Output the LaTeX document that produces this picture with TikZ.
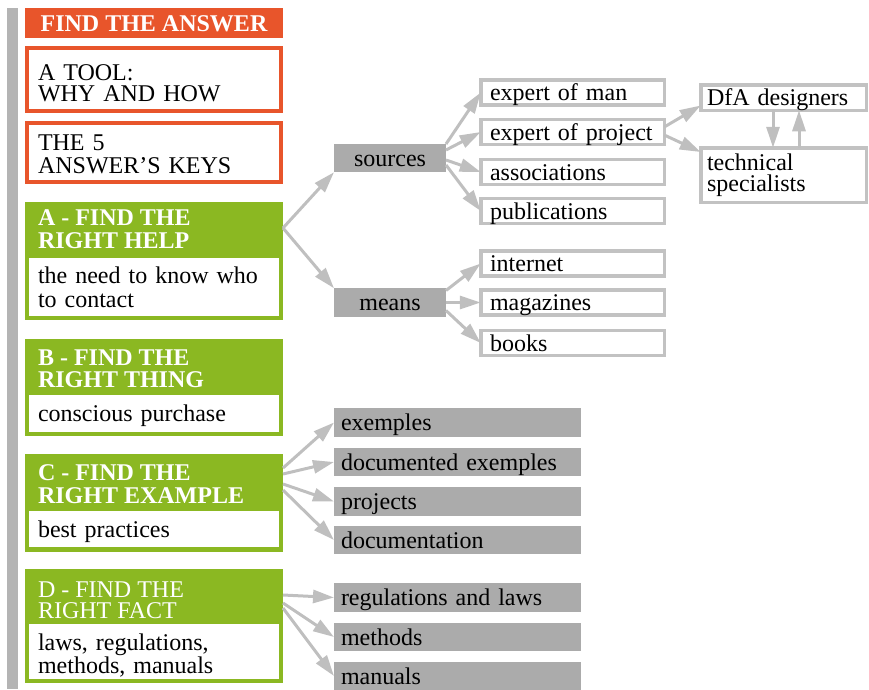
\documentclass[tikz,border=0pt]{standalone}
\usepackage{fontspec}
\setmainfont{Liberation Serif}
\usetikzlibrary{arrows.meta}
\definecolor{keyorange}{HTML}{E8552B}
\definecolor{keygreen}{HTML}{8BB822}
\definecolor{railgrey}{HTML}{B4B4B4}
\definecolor{tilegrey}{HTML}{ABABAB}
\definecolor{framegrey}{HTML}{C2C2C2}
\definecolor{linkgrey}{HTML}{BFBFBF}
\newcommand{\bigtext}{\fontsize{24}{22}\selectfont}

\begin{document}
\begin{tikzpicture}[x=1pt,y=-1pt,
  every node/.style={inner sep=0pt,outer sep=0pt,font=\bigtext},
  titlebar/.style={fill=keyorange,text=white,font=\bigtext\bfseries,
    minimum width=258pt,minimum height=30pt,text height=18pt,text depth=2pt},
  introbox/.style={draw=keyorange,line width=4pt,fill=white,minimum width=254pt,
    text width=232pt,inner xsep=11pt,align=left},
  keypanel/.style={fill=keygreen,minimum width=258pt},
  keyhead/.style={anchor=base west,text=white,align=left},
  keynote/.style={fill=white,minimum width=250pt,text width=232pt,inner xsep=9pt,align=left},
  hub/.style={fill=tilegrey,minimum width=112pt,minimum height=28.5pt,
    text height=18pt,text depth=2pt},
  item/.style={draw=framegrey,line width=3.5pt,fill=white,minimum width=183.5pt,
    minimum height=25pt,text width=165pt,inner xsep=9.25pt,align=left,
    text height=18pt,text depth=2pt},
  expert/.style={draw=framegrey,line width=3.5pt,fill=white,minimum width=165.5pt,
    text width=153pt,inner xsep=6.25pt,align=left},
  tile/.style={fill=tilegrey,minimum width=247pt,minimum height=28.5pt,
    text width=233pt,inner xsep=7pt,align=left,text height=18pt,text depth=2pt},
  link/.style={draw=linkgrey,line width=3pt,-{Triangle[length=21pt,width=13pt]}}
]
\useasboundingbox (0,0) rectangle (869,689);

% side rail
\fill[railgrey] (7,8) rectangle (17.5,689);

% heading and intro boxes
\node[titlebar] (title) at (154,23) {FIND THE ANSWER};
\node[introbox,minimum height=63pt,font=\fontsize{24}{21}\selectfont,
  text height=17pt,text depth=16pt] (tool) at (154,79.5) {A TOOL:\\WHY AND HOW};
\node[introbox,minimum height=59pt,font=\fontsize{24}{23}\selectfont,
  text height=17pt,text depth=22pt] (keys) at (154,152.5) {THE 5\\ANSWER’S KEYS};

% the four keys
\node[keypanel,minimum height=118pt] (helpA) at (154,261) {};
\node[keyhead,font=\fontsize{24}{23}\selectfont\bfseries] (headA) at (38,248) {A - FIND THE\\RIGHT HELP};
\node[keynote,minimum height=58pt,font=\fontsize{24}{24}\selectfont,
  text height=17pt,text depth=25pt] (noteA) at (154,287) {the need to know who\\to contact};

\node[keypanel,minimum height=97pt] (helpB) at (154,387.5) {};
\node[keyhead,font=\fontsize{24}{22}\selectfont\bfseries] (headB) at (38,387) {B - FIND THE\\RIGHT THING};
\node[keynote,minimum height=37pt,text height=18pt,text depth=2pt] (noteB) at (154,413.5) {conscious purchase};

\node[keypanel,minimum height=98pt] (helpC) at (154,503) {};
\node[keyhead,font=\fontsize{24}{23}\selectfont\bfseries] (headC) at (38,503) {C - FIND THE\\RIGHT EXAMPLE};
\node[keynote,minimum height=36pt,text height=18pt,text depth=2pt] (noteC) at (154,529) {best practices};

\node[keypanel,minimum height=114pt] (helpD) at (154,626) {};
\node[keyhead,font=\fontsize{24}{21}\selectfont] (headD) at (38,618) {D - FIND THE\\RIGHT FACT};
\node[keynote,minimum height=55pt,font=\fontsize{24}{23}\selectfont,
  text height=17pt,text depth=20pt] (noteD) at (154,651.5) {laws, regulations,\\methods, manuals};

% help: sources and means
\node[hub] (sources) at (390,158) {sources};
\node[hub] (means) at (390,302.5) {means};

\node[item] (eom) at (572.5,92.5) {expert of man};
\node[item] (eop) at (572.5,132) {expert of project};
\node[item] (assoc) at (572.5,172) {associations};
\node[item] (pub) at (572.5,211) {publications};
\node[item] (web) at (572.5,263.5) {internet};
\node[item] (mags) at (572.5,302.5) {magazines};
\node[item] (books) at (572.5,343) {books};

\node[expert,minimum height=25.5pt,text height=18pt,text depth=2pt] (dfa) at (783.5,97.5) {DfA designers};
\node[expert,minimum height=54.5pt,font=\fontsize{24}{21}\selectfont,
  text height=17pt,text depth=27pt] (tech) at (783.5,175) {technical\\specialists};

% example and fact tiles
\node[tile] (ex) at (457.5,422.5) {exemples};
\node[tile] (docex) at (457.5,462) {documented exemples};
\node[tile] (proj) at (457.5,501.5) {projects};
\node[tile] (docu) at (457.5,540) {documentation};
\node[tile] (regs) at (457.5,597.5) {regulations and laws};
\node[tile] (meth) at (457.5,637) {methods};
\node[tile] (manu) at (457.5,676) {manuals};

% connectors
\draw[link] ([yshift=33pt]helpA.east) -- (sources.south west);
\draw[link] ([yshift=33pt]helpA.east) -- (means.north west);

\draw[link] ([yshift=14pt]sources.east) -- (eom.west);
\draw[link] ([yshift=8pt]sources.east) -- (eop.west);
\draw[link] ([yshift=-2pt]sources.east) -- (assoc.west);
\draw[link] ([yshift=-7pt]sources.east) -- (pub.west);

\draw[link] ([yshift=12pt]means.east) -- (web.west);
\draw[link] (means.east) -- (mags.west);
\draw[link] ([yshift=-8pt]means.east) -- (books.west);

\draw[link] ([yshift=5pt]eop.east) -- ([yshift=-8pt]dfa.west);
\draw[link] ([yshift=-3pt]eop.east) -- ([yshift=23pt]tech.west);
\draw[link] ([xshift=-10.5pt]dfa.south) -- ([xshift=-10.5pt]tech.north);
\draw[link] ([xshift=15.5pt]tech.north) -- ([xshift=15.5pt]dfa.south);

\draw[link] ([yshift=35pt]helpC.east) -- (ex.west);
\draw[link] ([yshift=29pt]helpC.east) -- (docex.west);
\draw[link] ([yshift=19pt]helpC.east) -- (proj.west);
\draw[link] ([yshift=13pt]helpC.east) -- (docu.west);

\draw[link] ([yshift=31pt]helpD.east) -- (regs.west);
\draw[link] ([yshift=23pt]helpD.east) -- (meth.west);
\draw[link] ([yshift=18pt]helpD.east) -- (manu.west);
\end{tikzpicture}
\end{document}
